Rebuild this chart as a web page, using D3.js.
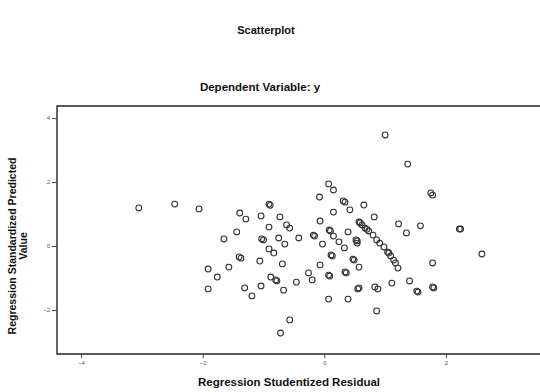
<!DOCTYPE html>
<html>
<head>
<meta charset="utf-8">
<script src="https://cdn.jsdelivr.net/npm/d3@7"></script>
<style>
  html, body { margin: 0; padding: 0; background: #fff; }
  svg { display: block; }
  text { font-family: "Liberation Sans", Arial, sans-serif; }
</style>
</head>
<body>
<div id="chart"></div>
<script>
// ---- data ----
const chartTitle = "Scatterplot";
const chartSubtitle = "Dependent Variable: y";
const xLabel = "Regression Studentized Residual";
const yLabelLines = ["Regression Standardized Predicted", "Value"];
const xTicks = [-4, -2, 0, 2];
const yTicks = [4, 2, 0, -2];

const studentizedResidual = [
  -3.05, -2.46, -2.06, -1.39, -1.29, -1.04, -1.44, -1.65, -1.03, -1.00,
  -0.91, -0.89, -0.91, -0.91, -1.40, -1.37, -1.06, -1.91, -1.76, -1.57,
  -1.91, -1.31, -1.19, -1.04, -0.88,
  1.00, 1.37, 1.75, 1.78, 0.07, 0.15, -0.08, 0.31, 0.34, 0.42,
  0.65, 0.15, -0.07, 0.82, 1.22, 1.58, 1.35, 2.22, 2.24, 2.59,
  -0.73, -0.62, -0.57, -0.75, -0.65, -0.42, -0.18, -0.16, -0.03, 0.08,
  0.10, 0.15, 0.24, 0.33, 0.39, 0.52, 0.54, 0.54,
  0.57, 0.59, 0.62, 0.67, 0.70, 0.73, 0.80, 0.86, 0.91, 0.98, 1.04, 1.06, 1.09, 1.14, 1.17, 1.21,
  -0.83, -0.69, 0.11, 0.13, 0.47, 0.49, 0.57, -0.07, -0.80, -0.78,
  -0.46, -0.26, -0.20, 0.07, 0.09, 0.34, 0.36, -0.67, 0.55, 0.57,
  0.83, 0.88, 1.11, 1.40, 1.52, 1.54, 1.78, 1.78, 1.80, 0.07,
  0.39, 0.86, -0.57, -0.72
];
const standardizedPredicted = [
  1.19, 1.31, 1.16, 1.03, 0.84, 0.94, 0.44, 0.22, 0.22, 0.19,
  1.31, 1.27, 0.59, -0.09, -0.34, -0.38, -0.47, -0.72, -0.97, -0.66,
  -1.34, -1.31, -1.56, -1.25, -0.97,
  3.47, 2.56, 1.66, 1.59, 1.94, 1.75, 1.53, 1.41, 1.37, 1.13,
  1.28, 1.06, 0.78, 0.91, 0.69, 0.63, 0.41, 0.53, 0.53, -0.25,
  0.91, 0.66, 0.56, 0.25, 0.06, 0.25, 0.34, 0.31, 0.06, 0.50,
  0.47, 0.31, 0.13, -0.06, 0.44, 0.19, 0.16, 0.09,
  0.75, 0.72, 0.66, 0.56, 0.52, 0.47, 0.34, 0.19, 0.09, -0.03, -0.19, -0.22, -0.31, -0.44, -0.53, -0.69,
  -0.22, -0.56, -0.28, -0.31, -0.41, -0.44, -0.66, -0.59, -1.06, -1.09,
  -1.13, -0.84, -1.06, -0.91, -0.94, -0.81, -0.84, -1.38, -1.34, -1.31,
  -1.28, -1.34, -1.16, -1.09, -1.41, -1.44, -0.53, -1.28, -1.31, -1.66,
  -1.66, -2.03, -2.31, -2.72
];

// ---- layout ----
const W = 540, H = 392;
const plot = { left: 57, right: 541, top: 106, bottom: 354 };

const svg = d3.select("#chart").append("svg")
  .attr("width", W).attr("height", H);

const x = d3.scaleLinear().domain([-4, 2]).range([81, 446]);
const y = d3.scaleLinear().domain([4, -2]).range([118, 310]);

// titles
svg.append("text").attr("x", 266).attr("y", 34)
  .attr("text-anchor", "middle").attr("font-size", 11).attr("font-weight", "bold")
  .attr("fill", "#111").text(chartTitle);
svg.append("text").attr("x", 260).attr("y", 91)
  .attr("text-anchor", "middle").attr("font-size", 11.5).attr("font-weight", "bold")
  .attr("fill", "#111").text(chartSubtitle);

// frame
svg.append("path")
  .attr("d", `M${plot.right},${plot.top}H${plot.left}V${plot.bottom}H${plot.right}`)
  .attr("fill", "none").attr("stroke", "#222").attr("stroke-width", 1.4);

// axes
const xAxis = d3.axisBottom(x).tickValues(xTicks).tickSize(4).tickPadding(3)
  .tickFormat(d3.format("d"));
const gx = svg.append("g").attr("transform", `translate(0,${plot.bottom})`).call(xAxis);
gx.select(".domain").remove();
gx.selectAll(".tick line").attr("stroke", "#444");
gx.selectAll(".tick text").attr("font-size", 6).attr("fill", "#555")
  .attr("font-family", "'Liberation Sans', Arial, sans-serif");

const yAxis = d3.axisLeft(y).tickValues(yTicks).tickSize(5).tickPadding(2)
  .tickFormat(d3.format("d"));
const gy = svg.append("g").attr("transform", `translate(${plot.left},0)`).call(yAxis);
gy.select(".domain").remove();
gy.selectAll(".tick line").attr("stroke", "#444");
gy.selectAll(".tick text").attr("font-size", 6).attr("fill", "#555")
  .attr("font-family", "'Liberation Sans', Arial, sans-serif");

// axis titles
svg.append("text").attr("x", 289).attr("y", 386)
  .attr("text-anchor", "middle").attr("font-size", 11.5).attr("font-weight", "bold")
  .attr("fill", "#111").text(xLabel);

const yl = svg.append("text").attr("transform", "translate(16,246) rotate(-90)")
  .attr("text-anchor", "middle").attr("font-size", 10.5).attr("font-weight", "bold")
  .attr("fill", "#111");
yLabelLines.forEach((t, i) => {
  yl.append("tspan").attr("x", 0).attr("dy", i === 0 ? 0 : 11).text(t);
});

// points
const pts = studentizedResidual.map((v, i) => ({ r: v, p: standardizedPredicted[i] }));
svg.append("g").selectAll("circle").data(pts).enter().append("circle")
  .attr("cx", d => x(d.r)).attr("cy", d => y(d.p)).attr("r", 2.9)
  .attr("fill", "none").attr("stroke", "#333").attr("stroke-width", 1.1);
</script>
</body>
</html>
